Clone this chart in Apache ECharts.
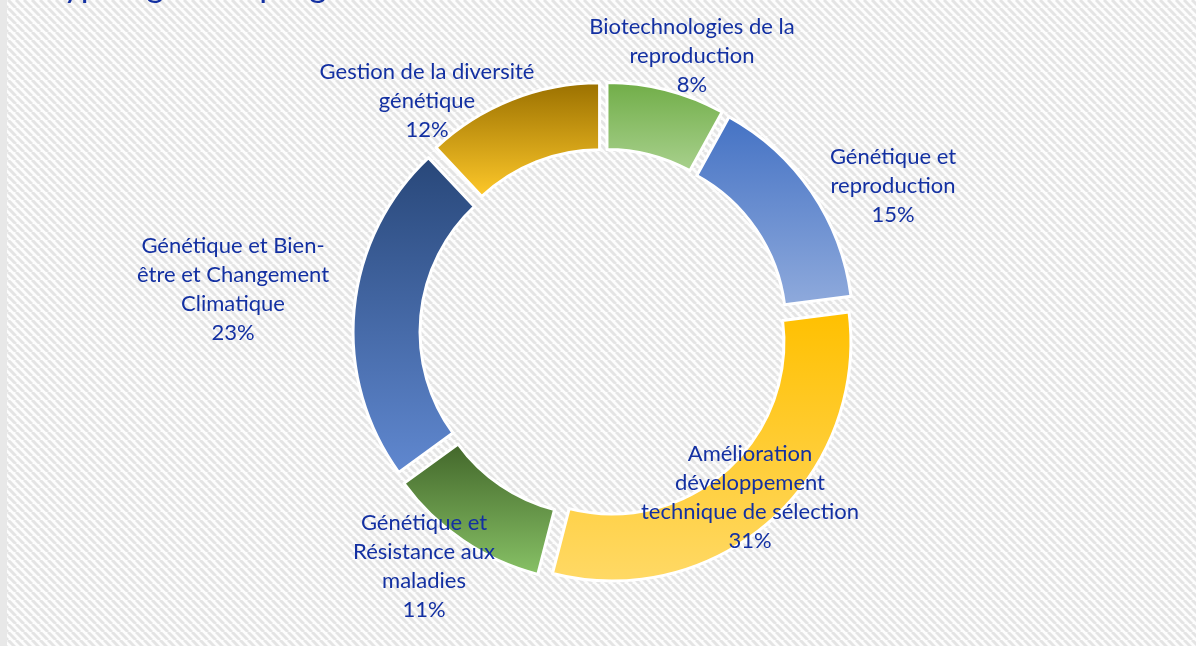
<!DOCTYPE html>
<html>
<head>
<meta charset="utf-8">
<script src="https://cdn.jsdelivr.net/npm/echarts@6/dist/echarts.min.js"></script>
<style>
  html, body { margin: 0; padding: 0; }
  #main { width: 1196px; height: 646px; }
</style>
</head>
<body>
<div id="main"></div>
<script>
// données (sens horaire depuis midi)
const categories = [
  'Biotechnologies de la\nreproduction',
  'Génétique et\nreproduction',
  'Amélioration\ndéveloppement\ntechnique de sélection',
  'Génétique et\nRésistance aux\nmaladies',
  'Génétique et Bien-\nêtre et Changement\nClimatique',
  'Gestion de la diversité\ngénétique'
]
const values = [8, 15, 31, 11, 23, 12]

// styles
const textColor = '#1330A2'
const gradTop = ['#70AD47', '#4472C4', '#FFC000', '#42662A', '#284779', '#9A7000']
const gradBottom = ['#A9D18E', '#8FAADC', '#FFD966', '#88C266', '#6088D0', '#FFC92A']
// centre des étiquettes (px)
const labelPos = [[692, 56], [893, 186], [750, 497], [424, 566], [233, 289], [427, 101]]

// fond hachuré
function hatch () {
  const s = 8
  const c = document.createElement('canvas')
  c.width = s
  c.height = s
  const ctx = c.getContext('2d')
  ctx.fillStyle = '#fdfdfd'
  ctx.fillRect(0, 0, s, s)
  ctx.strokeStyle = '#e4e4e4'
  ctx.lineWidth = 3
  for (let k = -s; k <= s; k += s) {
    ctx.beginPath()
    ctx.moveTo(k, 0)
    ctx.lineTo(k + s, s)
    ctx.stroke()
  }
  return c
}

const chart = echarts.init(document.getElementById('main'))

// étiquettes des secteurs
const labels = categories.map((name, i) => ({
  type: 'text',
  x: labelPos[i][0],
  y: labelPos[i][1],
  z: 100,
  style: {
    text: name + '\n' + values[i] + '%',
    fontFamily: 'Lato',
    fontSize: 22,
    lineHeight: 29,
    fill: textColor,
    align: 'center',
    verticalAlign: 'middle'
  }
}))

const option = {
  animation: false,
  backgroundColor: { image: hatch(), repeat: 'repeat' },
  graphic: [
    {
      type: 'rect',
      left: 0,
      top: 0,
      shape: { width: 7, height: 646 },
      style: { fill: '#e8e8e8' }
    },
    {
      type: 'text',
      x: 46,
      y: -14,
      style: {
        text: 'Typologie des programmes',
        fontFamily: 'Lato',
        fontSize: 34,
        fill: textColor,
        verticalAlign: 'middle'
      }
    }
  ].concat(labels),
  series: [
    {
      type: 'pie',
      center: [604, 333],
      radius: [172, 239],
      startAngle: 90,
      clockwise: true,
      selectedMode: 'multiple',
      selectedOffset: 12,
      emphasis: { disabled: true },
      itemStyle: {
        borderColor: '#ffffff',
        borderWidth: 3
      },
      label: { show: false },
      labelLine: { show: false },
      data: categories.map((name, i) => ({
        name: name,
        value: values[i],
        selected: true,
        itemStyle: {
          color: new echarts.graphic.LinearGradient(0, 0, 0, 1, [
            { offset: 0, color: gradTop[i] },
            { offset: 1, color: gradBottom[i] }
          ])
        }
      }))
    }
  ]
}

chart.setOption(option)
</script>
</body>
</html>
